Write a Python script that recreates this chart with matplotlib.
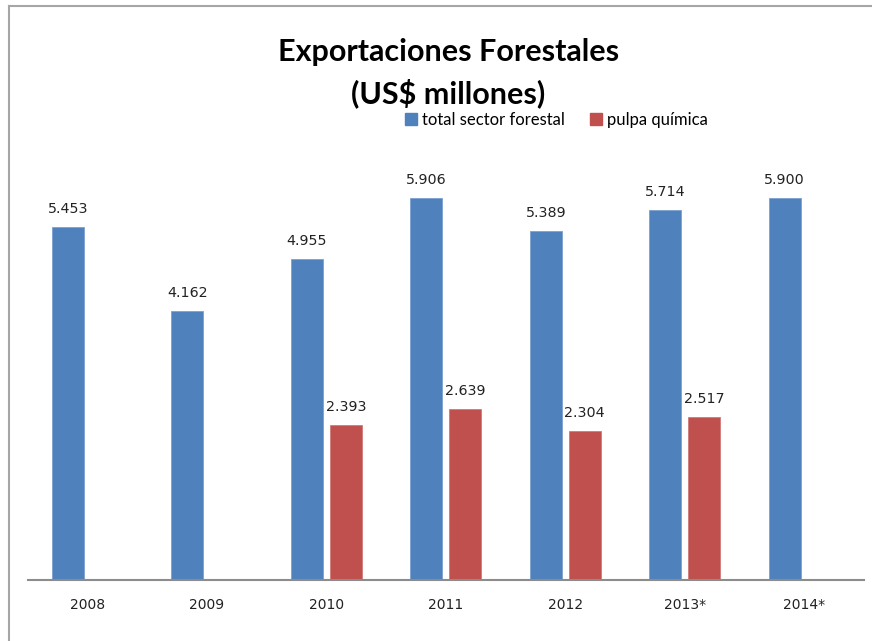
import numpy as np
import matplotlib.pyplot as plt
from matplotlib.lines import Line2D
from matplotlib.patches import Patch

# exportaciones forestales, US$ millones
years = ["2008", "2009", "2010", "2011", "2012", "2013*", "2014*"]
total_sector = [5453, 4162, 4955, 5906, 5389, 5714, 5900]
pulpa_quimica = [None, None, 2393, 2639, 2304, 2517, None]

blue = "#4F81BD"
red = "#C0504D"

def fmt(v):
    # thousands separator as a dot
    return f"{v:,}".replace(",", ".")

fig = plt.figure(figsize=(8.72, 6.41), dpi=100)
ax = fig.add_axes([0.0318, 0.0952, 0.959, 0.7067])

x = np.arange(len(years))
w = 0.268
off = 0.163

for i, v in enumerate(total_sector):
    ax.bar(x[i] - off, v, w, color=blue, edgecolor="#7ba0cf", linewidth=0.6)
    ax.annotate(fmt(v), (x[i] - off, v), xytext=(0, 8), textcoords="offset points",
                ha="center", va="bottom", fontsize=10.3, color="#222222")

for i, v in enumerate(pulpa_quimica):
    if v is None:
        continue
    ax.bar(x[i] + off, v, w, color=red, edgecolor="#d07a78", linewidth=0.6)
    ax.annotate(fmt(v), (x[i] + off, v), xytext=(0, 8), textcoords="offset points",
                ha="center", va="bottom", fontsize=10.3, color="#222222")

ax.set_xlim(-0.5, len(years) - 0.5)
ax.set_ylim(0, 7000)
ax.set_xticks(x)
ax.set_xticklabels(years, fontsize=10, color="#222222")
ax.tick_params(axis="x", length=0, pad=13)
ax.set_yticks([])
for s in ["top", "left", "right"]:
    ax.spines[s].set_visible(False)
ax.spines["bottom"].set_color("#8c8c8c")
ax.spines["bottom"].set_linewidth(1.5)

fig.text(0.514, 0.919, "Exportaciones Forestales", ha="center", va="center",
         fontsize=22, fontweight="bold", family="Lato")
fig.text(0.514, 0.854, "(US$ millones)", ha="center", va="center",
         fontsize=22, fontweight="bold", family="Lato")

handles = [Patch(color=blue), Patch(color=red)]
fig.legend(handles, ["total sector forestal", "pulpa química"], ncol=2, loc="center",
           bbox_to_anchor=(0.638, 0.813), frameon=False, handlelength=0.7,
           handleheight=0.7, handletextpad=0.3, columnspacing=1.5,
           prop={"family": "Lato", "size": 12})

# chart frame (left and top edges visible)
fig.add_artist(Line2D([9 / 872, 9 / 872], [0, 1 - 6 / 641], color="#a6a6a6", lw=1.5))
fig.add_artist(Line2D([9 / 872, 1], [1 - 6 / 641, 1 - 6 / 641], color="#a6a6a6", lw=1.5))

fig.savefig("out.png", dpi=100)
